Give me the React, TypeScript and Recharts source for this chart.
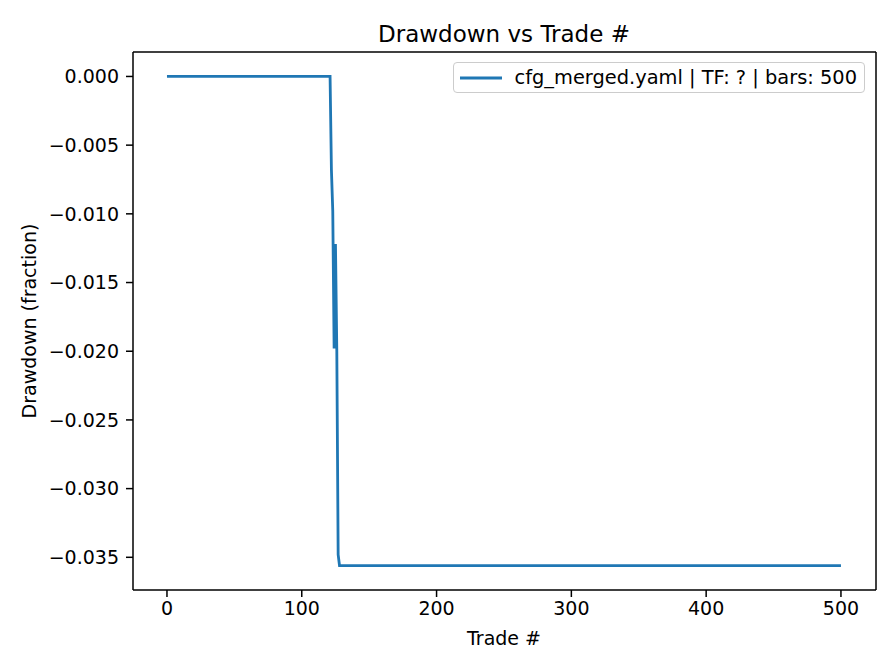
import { LineChart, Line, XAxis, YAxis, Label, ReferenceLine } from "recharts"

// trade index where the curve changes, and the drawdown read at each point
const trades = [0, 121, 122, 123, 124, 125, 126, 127, 128, 500]
const drawdown = [0, 0, -0.0068, -0.0098, -0.0198, -0.0122, -0.0200, -0.0348, -0.0356, -0.0356]

const xTicks = [0, 100, 200, 300, 400, 500]
const yTicks = [0, -0.005, -0.01, -0.015, -0.02, -0.025, -0.03, -0.035]
const xDomain = [-25.2, 526]
const yDomain = [-0.03738, 0.00178]

const seriesName = "cfg_merged.yaml | TF: ? | bars: 500"
const blue = "#1f77b4"
const font = "DejaVu Sans, sans-serif"

const data = trades.map((t, i) => ({ trade: t, dd: drawdown[i] }))

const fmtY = (v: number) => {
  const s = Math.abs(v).toFixed(3)
  return v < -1e-9 ? "\u2212" + s : s
}

function LegendBox() {
  return (
    <div
      style={{
        position: "absolute",
        top: 62,
        right: 31,
        display: "flex",
        alignItems: "center",
        border: "1px solid #cccccc",
        borderRadius: 4,
        background: "white",
        padding: "3px 7px 3px 5px",
        fontFamily: font,
        fontSize: 19.4,
        color: "#000",
        whiteSpace: "nowrap",
      }}
    >
      <svg width={44} height={10} style={{ marginRight: 12 }}>
        <line x1={1} y1={5} x2={43} y2={5} stroke={blue} strokeWidth={2.8} />
      </svg>
      <span>{seriesName}</span>
    </div>
  )
}

export default function App() {
  return (
    <div style={{ position: "absolute", left: 0, top: 0, width: 896, height: 672, background: "white" }}>
      <LineChart
        width={896}
        height={672}
        data={data}
        margin={{ top: 52, right: 20, bottom: 0, left: 0 }}
      >
        <text x={504} y={42} textAnchor="middle" fontFamily={font} fontSize={23} fill="#000">
          Drawdown vs Trade #
        </text>
        <XAxis
          dataKey="trade"
          type="number"
          domain={xDomain}
          ticks={xTicks}
          allowDataOverflow
          height={82}
          stroke="#000"
          strokeWidth={1.5}
          tickSize={7}
          tickMargin={5}
          tick={{ fill: "#000", fontFamily: font, fontSize: 19 }}
        >
          <Label
            content={() => (
              <text x={504} y={645} textAnchor="middle" fontFamily={font} fontSize={19} fill="#000">
                Trade #
              </text>
            )}
          />
        </XAxis>
        <YAxis
          type="number"
          domain={yDomain}
          ticks={yTicks}
          allowDataOverflow
          width={133}
          stroke="#000"
          strokeWidth={1.5}
          tickSize={7}
          tickMargin={7}
          tickFormatter={fmtY}
          tick={{ fill: "#000", fontFamily: font, fontSize: 19 }}
        >
          <Label
            content={() => (
              <text
                x={36}
                y={321}
                transform="rotate(-90 36 321)"
                textAnchor="middle"
                fontFamily={font}
                fontSize={19}
                fill="#000"
              >
                Drawdown (fraction)
              </text>
            )}
          />
        </YAxis>
        {/* top and right spines */}
        <ReferenceLine y={yDomain[1]} stroke="#000" strokeWidth={1.5} />
        <ReferenceLine x={xDomain[1]} stroke="#000" strokeWidth={1.5} />
        <Line
          type="linear"
          dataKey="dd"
          name={seriesName}
          stroke={blue}
          strokeWidth={2.8}
          dot={false}
          activeDot={false}
          isAnimationActive={false}
        />
      </LineChart>
      <LegendBox />
    </div>
  )
}
